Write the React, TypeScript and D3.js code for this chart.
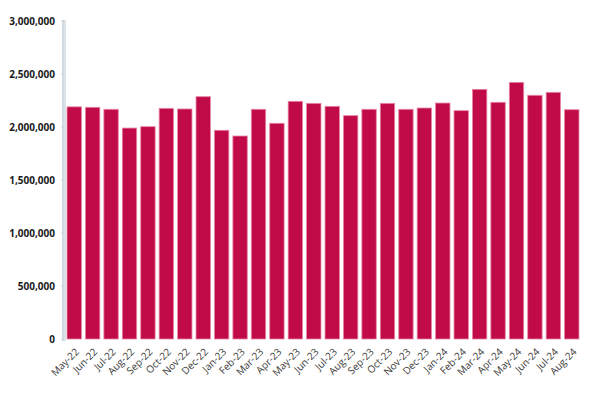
import React from "react";
import * as d3 from "d3";

const months = ["May-22","Jun-22","Jul-22","Aug-22","Sep-22","Oct-22","Nov-22","Dec-22","Jan-23","Feb-23","Mar-23","Apr-23","May-23","Jun-23","Jul-23","Aug-23","Sep-23","Oct-23","Nov-23","Dec-23","Jan-24","Feb-24","Mar-24","Apr-24","May-24","Jun-24","Jul-24","Aug-24"];
const values = [2190000,2186000,2167000,1990000,2003000,2176000,2170000,2286000,1969000,1915000,2167000,2035000,2242000,2223000,2195000,2107000,2167000,2223000,2167000,2179000,2226000,2154000,2355000,2233000,2421000,2299000,2327000,2163000];
const yTicks = [0,500000,1000000,1500000,2000000,2500000,3000000];

export default function App() {
  const W = 606, H = 409;
  const x = d3.scaleBand<string>().domain(months).range([65, 581]).paddingInner(0.22).paddingOuter(0.11);
  const y = d3.scaleLinear().domain([0, 3000000]).range([339, 21]);
  const fmt = d3.format(",");
  return (
    <svg width={W} height={H} style={{position:"absolute",left:0,top:0}} fontFamily="'Open Sans', sans-serif">
      <rect x={62} y={y(3000000)-1} width={4} height={y(0)-y(3000000)+3} fill="#dbe3e8" />
      <line x1={63} x2={63} y1={y(3000000)-1} y2={y(0)+2} stroke="#c8d3da" strokeWidth={1} />
      {yTicks.map(t => (
        <g key={t}>
          <line x1={61} x2={63} y1={y(t)} y2={y(t)} stroke="#c8d3da" />
          <text x={55} y={y(t)} dy="0.35em" textAnchor="end" fontSize={10} fontWeight={700} fill="#1a1a1a">{fmt(t)}</text>
        </g>
      ))}
      {months.map((m, i) => (
        <rect key={m} x={x(m)} y={y(values[i])} width={x.bandwidth()} height={y(0)-y(values[i])} fill="#c10b48" stroke="#e8859f" strokeWidth={0.8} />
      ))}
      {months.map(m => {
        const cx = (x(m) as number) + x.bandwidth()/2 + 3;
        const cy = 350;
        return (
          <text key={m} transform={`translate(${cx},${cy}) rotate(-45)`} textAnchor="end" dy="0.35em" fontSize={10} fill="#3a3a3a">{m}</text>
        );
      })}
    </svg>
  );
}
